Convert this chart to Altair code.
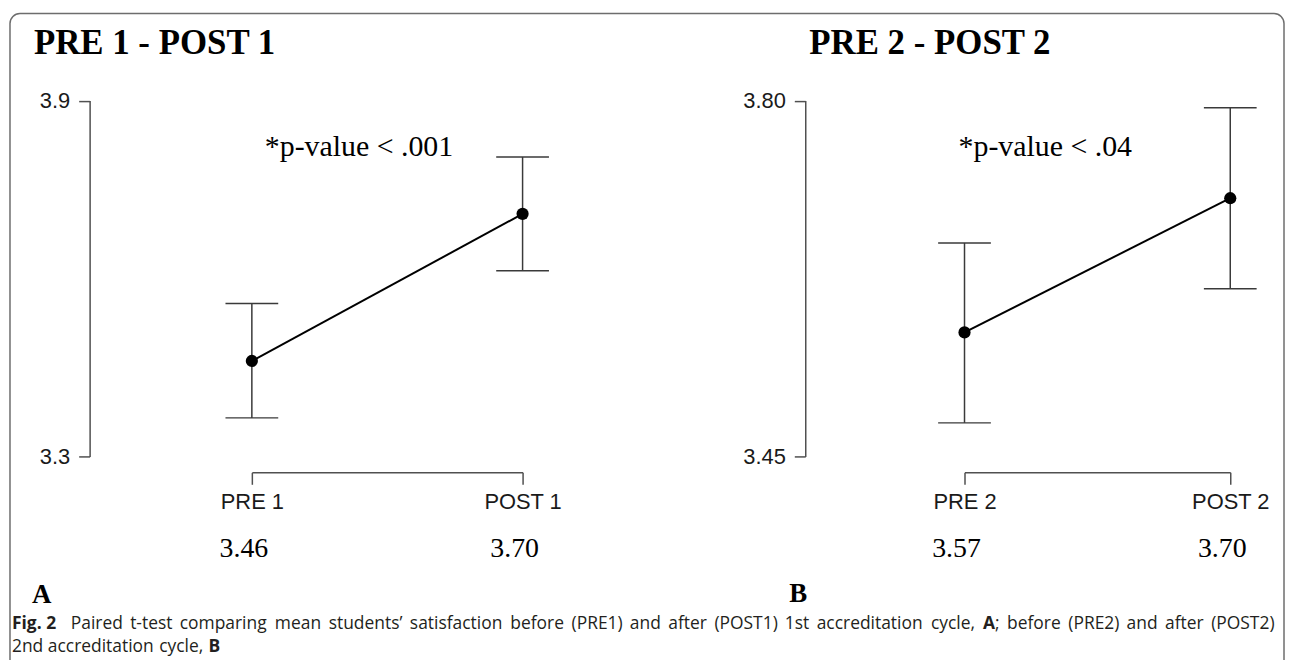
import altair as alt
import pandas as pd

# ---------------- data ----------------
cats_a = ["PRE 1", "POST 1"]
means_a = [3.461, 3.709]
lower_a = [3.365, 3.613]
upper_a = [3.558, 3.805]
labels_a = ["3.46", "3.70"]
yticks_a = [3.3, 3.9]

cats_b = ["PRE 2", "POST 2"]
means_b = [3.572, 3.704]
lower_b = [3.483, 3.615]
upper_b = [3.660, 3.793]
labels_b = ["3.57", "3.70"]
yticks_b = [3.45, 3.80]

titles = ["PRE 1 - POST 1", "PRE 2 - POST 2"]
pvalues = ["*p-value < .001", "*p-value < .04"]
panel_letters = ["A", "B"]

caption_line1 = [
    [("Fig. 2", True)], [("Paired", False)], [("t-test", False)], [("comparing", False)],
    [("mean", False)], [("students\u2019", False)], [("satisfaction", False)], [("before", False)],
    [("(PRE1)", False)], [("and", False)], [("after", False)], [("(POST1)", False)],
    [("1st", False)], [("accreditation", False)], [("cycle,", False)], [("A", True), (";", False)],
    [("before", False)], [("(PRE2)", False)], [("and", False)], [("after", False)], [("(POST2)", False)],
]
caption_line2 = [[("2nd", False)], [("accreditation", False)], [("cycle,", False)], [("B", True)]]

W, H = 1283, 652
AXIS_GRAY = "#505050"
SANS = "Liberation Sans"
SERIF = "Liberation Serif"
CAP = "Open Sans"
CAPC = "#231f20"
CAP_SIZE = 17.5


def panel(cats, means, lower, upper, labels, ydom, yfmt, xrange, yaxis_x):
    df = pd.DataFrame({"cat": cats, "mean": means, "lo": lower, "hi": upper, "lab": labels})
    xs = alt.Scale(type="point", domain=cats, range=xrange, padding=0)
    ys = alt.Scale(domain=ydom, range=[449, 91.5], zero=False, nice=False)
    xaxis = alt.Axis(title=None, orient="bottom", offset=-187, tickSize=12, labelPadding=7,
                     labelFontSize=22, labelFont=SANS, labelColor="#1a1a1a", labelAngle=0,
                     domainColor=AXIS_GRAY, tickColor=AXIS_GRAY, domainWidth=1.5, tickWidth=1.5,
                     grid=False)
    yaxis = alt.Axis(title=None, orient="left", offset=-yaxis_x, values=ydom, format=yfmt,
                     tickSize=11, labelPadding=9, labelFontSize=22, labelFont=SANS,
                     labelColor="#1a1a1a", domainColor=AXIS_GRAY, tickColor=AXIS_GRAY,
                     domainWidth=1.5, tickWidth=1.5, grid=False, labelBaseline="middle")

    def X():
        return alt.X("cat:N", scale=xs, sort=cats, axis=xaxis)

    def Y(f):
        return alt.Y(f, scale=ys, axis=yaxis)

    base = alt.Chart(df)
    rule = base.mark_rule(color="#3a3a3a", strokeWidth=1.5).encode(x=X(), y=Y("lo:Q"), y2="hi:Q")
    cap_lo = base.mark_tick(color="#3a3a3a", size=53, thickness=1.5, opacity=1).encode(x=X(), y=Y("lo:Q"))
    cap_hi = base.mark_tick(color="#3a3a3a", size=53, thickness=1.5, opacity=1).encode(x=X(), y=Y("hi:Q"))
    line = base.mark_line(color="black", strokeWidth=2).encode(x=X(), y=Y("mean:Q"))
    pts = base.mark_point(filled=True, color="black", size=150, opacity=1).encode(x=X(), y=Y("mean:Q"))
    vals = base.mark_text(font=SERIF, fontSize=28, dx=-8, baseline="alphabetic", color="black").encode(
        x=X(), y=alt.value(550), text="lab:N")
    return alt.layer(rule, cap_lo, cap_hi, line, pts, vals)


panel_a = panel(cats_a, means_a, lower_a, upper_a, labels_a, yticks_a, ".1f", [245, 517], 82)
panel_b = panel(cats_b, means_b, lower_b, upper_b, labels_b, yticks_b, ".2f", [961, 1228], 801)


def txt(s, x, y, size, font, weight="normal", align="left", color="black"):
    return alt.Chart(pd.DataFrame({"t": [s]})).mark_text(
        font=font, fontSize=size, fontWeight=weight, align=align, baseline="alphabetic", color=color
    ).encode(x=alt.value(x), y=alt.value(y), text="t:N")


# approximate Open Sans advance widths (em) used only to lay out the justified caption
OS = {" ": .26, "a": .556, "b": .613, "c": .504, "d": .613, "e": .561, "f": .339, "g": .548,
      "h": .614, "i": .253, "l": .253, "m": .93, "n": .614, "o": .604, "p": .613, "r": .408,
      "s": .477, "t": .353, "u": .614, "v": .499, "y": .5, "(": .296, ")": .296, ",": .243,
      ".": .266, "-": .322, ";": .266, "\u2019": .17, "1": .572, "2": .572, "P": .586, "R": .613,
      "E": .551, "O": .781, "S": .536, "T": .544, "A": .635, "B": .641, "F": .535}


def tw(s, bold=False):
    w = sum(OS.get(c, .55) for c in s) * CAP_SIZE * 1.0
    return w * (1.07 if bold else 1.0)


def layout(tokens, x0, y, x1=None, first_gap_weight=1.0):
    widths = [sum(tw(t, b) for t, b in tok) for tok in tokens]
    ngaps = len(tokens) - 1
    weights = [first_gap_weight] + [1.0] * (ngaps - 1)
    if x1 is None:
        gap = tw(" ")
    else:
        gap = (x1 - x0 - sum(widths)) / sum(weights)
    layers = []
    x = x0
    for i, tok in enumerate(tokens):
        xx = x
        for t, b in tok:
            layers.append(txt(t, xx, y, CAP_SIZE, CAP, "bold" if b else "normal", color=CAPC))
            xx += tw(t, b)
        if i < ngaps:
            x += widths[i] + gap * weights[i]
    return layers


border = alt.Chart(pd.DataFrame({"k": [0]})).mark_rect(
    fillOpacity=0, stroke="#6d6d6d", strokeWidth=1.5, cornerRadius=10
).encode(x=alt.value(2), x2=alt.value(1282), y=alt.value(4), y2=alt.value(760))

decor = [
    txt(titles[0], 26, 45, 35, SERIF, "bold"),
    txt(titles[1], 805, 45, 35, SERIF, "bold"),
    txt(pvalues[0], 258, 147, 30, SERIF),
    txt(pvalues[1], 955, 147, 30, SERIF),
    txt(panel_letters[0], 24, 596, 27, SERIF, "bold"),
    txt(panel_letters[1], 785, 595, 27, SERIF, "bold"),
]
decor += layout(caption_line1, 4, 622, 1272, first_gap_weight=1.8)
decor += layout(caption_line2, 4, 645)

chart = alt.layer(border, panel_a, panel_b, *decor).resolve_scale(
    x="independent", y="independent"
).properties(
    width=W, height=H, padding=0, autosize=alt.AutoSizeParams(type="none")
).configure_view(strokeWidth=0)

chart.save("out.html", embed_options={"renderer": "svg", "actions": False})
